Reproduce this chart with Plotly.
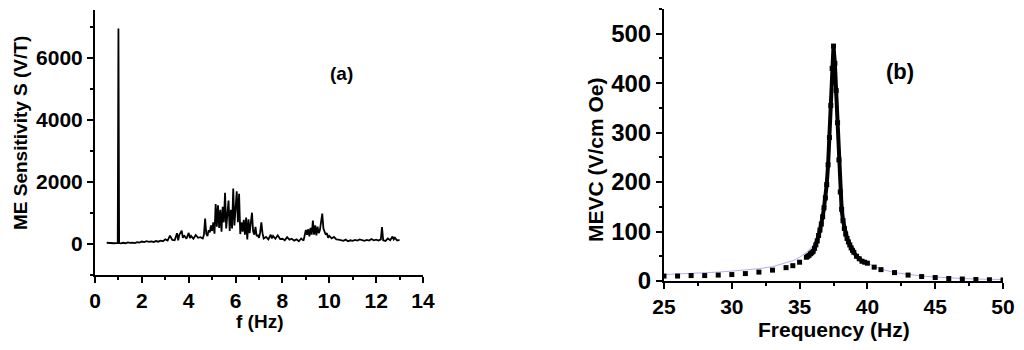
import plotly.graph_objects as go

# (a) ME sensitivity spectrum
freq_a = [0.5, 0.6, 0.7, 0.8, 0.9, 0.97, 1.0, 1.03, 1.1, 1.2, 1.3, 1.4, 1.5, 1.6, 1.7, 1.8, 1.9,
          2.0, 2.1, 2.2, 2.3, 2.4, 2.5, 2.6, 2.7, 2.8, 2.9, 3.0, 3.1, 3.2, 3.3, 3.4, 3.5, 3.55,
          3.6, 3.7, 3.75, 3.8, 3.9, 4.0, 4.05, 4.1, 4.2, 4.3, 4.4, 4.5, 4.6, 4.65, 4.7, 4.75,
          4.8, 4.85, 4.9, 4.95, 5.0, 5.05, 5.1, 5.15, 5.2, 5.25, 5.3, 5.35, 5.4, 5.45, 5.5,
          5.55, 5.6, 5.65, 5.7, 5.75, 5.8, 5.85, 5.9, 5.95, 6.0, 6.05, 6.1, 6.15, 6.2, 6.25,
          6.3, 6.35, 6.4, 6.45, 6.5, 6.55, 6.6, 6.65, 6.7, 6.75, 6.8, 6.85, 6.9, 6.95, 7.0,
          7.05, 7.1, 7.15, 7.2, 7.3, 7.4, 7.5, 7.55, 7.6, 7.7, 7.8, 7.9, 8.0, 8.1, 8.2, 8.3,
          8.4, 8.5, 8.6, 8.7, 8.8, 8.9, 9.0, 9.05, 9.1, 9.15, 9.2, 9.25, 9.3, 9.35, 9.4, 9.45,
          9.5, 9.55, 9.6, 9.7, 9.75, 9.8, 9.85, 9.9, 9.95, 10.0, 10.1, 10.2, 10.3, 10.4, 10.5,
          10.6, 10.7, 10.8, 10.9, 11.0, 11.1, 11.2, 11.3, 11.4, 11.5, 11.6, 11.7, 11.8, 11.9,
          12.0, 12.1, 12.2, 12.25, 12.3, 12.4, 12.5, 12.6, 12.7, 12.75, 12.8, 12.9, 13.0]
sens_a = [40, 30, 35, 25, 30, 30, 6950, 30, 20, 40, 25, 50, 35, 45, 30, 60, 45,
          80, 60, 90, 70, 85, 65, 95, 75, 110, 90, 150, 110, 270, 130, 120, 350, 120,
          300, 430, 200, 280, 170, 360, 190, 260, 170, 290, 200, 220, 180, 300, 820, 330,
          260, 450, 380, 600, 420, 700, 330, 1290, 560, 1250, 520, 1100, 400, 1200, 700,
          1650, 500, 1050, 1400, 420, 1100, 500, 1790, 600, 1200, 1700, 700, 1620, 320, 700,
          400, 780, 300, 850, 150, 800, 350, 700, 1010, 400, 300, 550, 250, 300, 200,
          380, 700, 350, 180, 230, 150, 300, 180, 260, 170, 280, 160, 170, 120, 220, 140,
          170, 110, 150, 90, 180, 110, 450, 300, 480, 250, 520, 300, 760, 300, 600, 280,
          560, 350, 450, 980, 500, 420, 300, 350, 200, 260, 180, 230, 150, 140, 110,
          100, 140, 90, 120, 100, 130, 110, 150, 120, 100, 130, 110, 160, 120,
          140, 110, 150, 550, 120, 100, 180, 120, 240, 150, 200, 110, 130]

# (b) MEVC resonance: sparse points on the tails, dense points around the peak
freq_b_tail = [25, 26, 27, 28, 29, 30, 31, 32, 33, 34, 34.5, 35,
               40.5, 41, 42, 43, 44, 45, 46, 47, 48, 49, 50]
mevc_b_tail = [10, 10, 11, 11, 12, 13, 15, 18, 22, 27, 31, 38,
               28, 23, 17, 12, 9, 7, 5, 4, 3, 2.5, 2]
freq_b_peak = [35.5, 35.6, 35.7, 35.8, 35.9, 36.0, 36.1, 36.2, 36.3, 36.4, 36.5, 36.6, 36.7,
               36.8, 36.9, 37.0, 37.1, 37.2, 37.3, 37.4, 37.5, 37.6, 37.7, 37.8, 37.9, 38.0,
               38.1, 38.2, 38.3, 38.4, 38.5, 38.6, 38.7, 38.8, 38.9, 39.0, 39.2, 39.4, 39.6,
               39.8, 40.0]
mevc_b_peak = [48, 50, 52, 55, 57, 60, 66, 73, 81, 92, 103, 115, 130,
               148, 168, 195, 235, 290, 355, 430, 475, 440, 385, 320, 245, 180,
               145, 122, 106, 95, 86, 79, 73, 67, 62, 58, 50, 45, 40,
               38, 36]
# fitted curve (faint blue)
freq_fit = [25, 26, 27, 28, 29, 30, 31, 32, 33, 34, 34.5, 35, 35.5, 36, 36.5, 37, 37.25,
            37.5, 37.75, 38, 38.5, 39, 39.5, 40, 41, 42, 43, 44, 45, 46, 47, 48, 49, 50]
mevc_fit = [13, 14, 15, 16, 18, 20, 22, 25, 29, 36, 41, 48, 58, 72, 100, 180, 300,
            480, 300, 190, 95, 60, 45, 36, 24, 17, 13, 10, 8, 6, 5, 4, 3.5, 3]

FONT = "Liberation Sans"
W, H = 1024, 350
OFF = 8  # page body margin shifts the figure by 8 px


def px(x):
    return (x - OFF) / W


def py(y):
    return 1 - (y - OFF) / H


fig = go.Figure()

fig.add_trace(go.Scatter(x=freq_a, y=sens_a, mode="lines",
                         line=dict(color="black", width=1.8),
                         xaxis="x", yaxis="y", showlegend=False))

fig.add_trace(go.Scatter(x=freq_fit, y=mevc_fit, mode="lines",
                         line=dict(color="#b0b0f0", width=1),
                         xaxis="x2", yaxis="y2", showlegend=False))
fig.add_trace(go.Scatter(x=freq_b_peak, y=mevc_b_peak, mode="lines+markers",
                         line=dict(color="black", width=4),
                         marker=dict(symbol="square", size=5, color="black"),
                         xaxis="x2", yaxis="y2", showlegend=False))
fig.add_trace(go.Scatter(x=freq_b_tail, y=mevc_b_tail, mode="markers",
                         marker=dict(symbol="square", size=5, color="black"),
                         xaxis="x2", yaxis="y2", showlegend=False))


def ax(size, **kw):
    base = dict(showline=True, linecolor="black", linewidth=2, mirror=False,
                ticks="outside", ticklen=6, tickwidth=2, tickcolor="black",
                showgrid=False, zeroline=False, automargin=False,
                tickfont=dict(family=FONT, size=size, color="black", weight="bold"),
                minor=dict(ticks="outside", ticklen=3, tickwidth=1.5, tickcolor="black"))
    base.update(kw)
    return base


fig.update_layout(
    width=W, height=H,
    margin=dict(l=0, r=0, t=0, b=0),
    paper_bgcolor="white", plot_bgcolor="white",
    template="none",
    xaxis=ax(21, domain=[px(95), px(423)], range=[0, 14], dtick=2, tick0=0,
             minor_dtick=1, anchor="y"),
    yaxis=ax(21, domain=[py(275), py(10)], range=[-1000, 7550], dtick=2000, tick0=0,
             minor_dtick=1000, anchor="x"),
    xaxis2=ax(21, domain=[px(664), px(1003)], range=[25, 50], dtick=5, tick0=25,
              minor_dtick=2.5, anchor="y2"),
    yaxis2=ax(24, domain=[py(281), py(9)], range=[0, 550], dtick=100, tick0=0,
              minor_dtick=50, anchor="x2"),
)


def font(size):
    return dict(family=FONT, size=size, color="black", weight="bold")


notes = [
    dict(text="ME Sensitivity S (V/T)", x=px(20), y=py(133), textangle=-90, font=font(19)),
    dict(text="f (Hz)", x=px(259), y=py(321), font=font(19)),
    dict(text="MEVC (V/cm Oe)", x=px(595), y=py(160), textangle=-90, font=font(21)),
    dict(text="Frequency (Hz)", x=px(834), y=py(329), font=font(21)),
    dict(text="(a)", x=px(341), y=py(73), font=font(19)),
    dict(text="(b)", x=px(900), y=py(72), font=font(22)),
]
for n in notes:
    fig.add_annotation(xref="paper", yref="paper", showarrow=False,
                       xanchor="center", yanchor="middle", **n)

fig.write_html("out.html")
